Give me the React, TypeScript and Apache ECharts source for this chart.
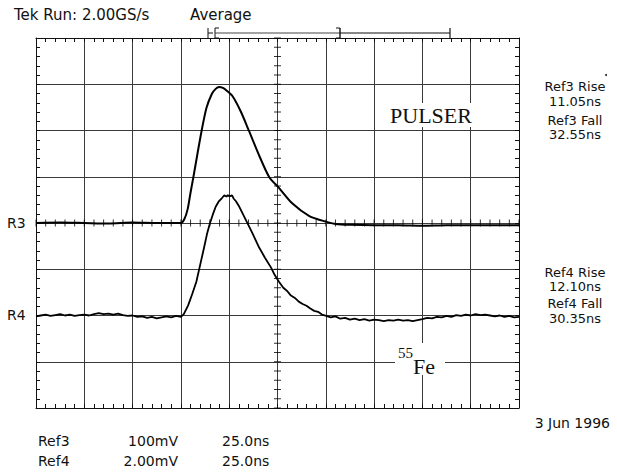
import React, { useEffect, useRef } from "react";
import * as echarts from "echarts";

// ---- axis setup (time in ns, vertical in screen divisions) ----
const timeMinNs = 0;
const timeMaxNs = 250;
const nsPerDiv = 25;
const divMin = -4;
const divMax = 4;
const minorPerDiv = 5;
const centerTimeNs = 125;

// ---- Ref3 trace (PULSER), [time ns, divisions] ----
const ref3Trace: [number, number][] = [
  [0, 0], [12.5, 0.01], [25, 0], [37.5, -0.01], [50, 0.01], [62.5, 0], [75, 0],
  [76.75, 0.08], [78.5, 0.3], [80, 0.66], [81.5, 1.0], [83.75, 1.54], [85.75, 2.0],
  [88.25, 2.49], [91, 2.79], [93, 2.9], [94.75, 2.94], [96.75, 2.92], [98.75, 2.86],
  [101.75, 2.74], [106, 2.41], [110.25, 1.99], [115.5, 1.46], [120.75, 0.99],
  [125.75, 0.76], [132.75, 0.42], [141.5, 0.15], [150, 0.03], [155, -0.02],
  [162.5, -0.04], [175, -0.05], [187.5, -0.05], [200, -0.06], [212.5, -0.05],
  [225, -0.05], [237.5, -0.05], [250, -0.05],
];

// ---- Ref4 trace (55Fe), [time ns, divisions] ----
const ref4Trace: [number, number][] = [
  [0, -2.02], [2.5, -2.0], [5, -1.98], [7.5, -2.01], [10, -1.99], [12.5, -1.97],
  [15, -2.0], [17.5, -1.98], [20, -2.01], [22.5, -1.99], [25, -1.98], [27.5, -2.0],
  [30, -1.97], [32.5, -1.95], [35, -1.97], [37.5, -1.96], [40, -1.98], [42.5, -1.96],
  [45, -1.99], [47.5, -2.01], [50, -2.0], [52.5, -2.03], [55, -2.02], [57.5, -2.05],
  [60, -2.03], [62.5, -2.06], [65, -2.04], [67.5, -2.02], [70, -2.04], [72.5, -2.01],
  [75, -2.03], [76.5, -1.97], [78.75, -1.78], [81, -1.52], [83, -1.27], [85, -0.9],
  [87, -0.53], [88.5, -0.24], [90, -0.01], [91.5, 0.18], [93, 0.35], [94.5, 0.46],
  [96.25, 0.54], [97.5, 0.6], [98.5, 0.57], [99.25, 0.6], [100.5, 0.58], [101.5, 0.6],
  [102.25, 0.53], [103.5, 0.47], [105.25, 0.35], [107.5, 0.16], [109.5, -0.01],
  [112, -0.22], [115.5, -0.53], [118.5, -0.75], [121.75, -0.97], [123.5, -1.12],
  [125.75, -1.27], [128, -1.4], [130, -1.47], [131.75, -1.56], [134, -1.62],
  [136, -1.7], [138, -1.75], [140, -1.79], [142, -1.85], [144, -1.9], [146, -1.92],
  [148, -1.98], [150.25, -2.01], [152.5, -2.04], [155, -2.02], [157.5, -2.07],
  [160, -2.05], [162.5, -2.09], [165, -2.07], [167.5, -2.1], [170, -2.08],
  [172.5, -2.11], [175, -2.09], [177.5, -2.1], [180, -2.12], [182.5, -2.1],
  [185, -2.11], [187.5, -2.09], [190, -2.11], [192.5, -2.1], [195, -2.12],
  [197.5, -2.1], [200, -2.08], [202.5, -2.05], [205, -2.06], [207.5, -2.03],
  [210, -2.04], [212.5, -2.01], [215, -2.03], [217.5, -1.99], [220, -2.01],
  [222.5, -1.98], [225, -2.0], [227.5, -1.97], [230, -1.99], [232.5, -1.98],
  [235, -2.0], [237.5, -2.02], [240, -2.0], [242.5, -2.03], [245, -2.01],
  [247.5, -2.04], [250, -2.03],
];

// ---- texts ----
const headerRun = "Tek Run: 2.00GS/s";
const headerMode = "Average";
const ref3Readout = ["Ref3 Rise", "11.05ns", "Ref3 Fall", "32.55ns"];
const ref4Readout = ["Ref4 Rise", "12.10ns", "Ref4 Fall", "30.35ns"];
const channelRows = [
  ["Ref3", "100mV", "25.0ns"],
  ["Ref4", "2.00mV", "25.0ns"],
];
const dateLabel = "3 Jun 1996";
const pulserLabel = "PULSER";
const feMass = "55";
const feSymbol = "Fe";
const markerR3 = "R3";
const markerR4 = "R4";

const SANS = "DejaVu Sans";
const SERIF = "Liberation Serif";

export default function App() {
  const ref = useRef<HTMLDivElement>(null);

  useEffect(() => {
    if (!ref.current) return;
    const chart = echarts.init(ref.current, null, { renderer: "svg" });

    const minorNs = nsPerDiv / minorPerDiv;
    const hTicks: [number, number][] = [];
    for (let t = timeMinNs; t <= timeMaxNs + 1e-6; t += minorNs) hTicks.push([t, 0]);
    const vTicks: [number, number][] = [];
    for (let i = divMin * minorPerDiv; i <= divMax * minorPerDiv; i++)
      vTicks.push([centerTimeNs, i / minorPerDiv]);

    const gridColor = "#3a3a3a";

    const xBase = (pos: "bottom" | "top", split: boolean) => ({
      type: "value",
      position: pos,
      min: timeMinNs,
      max: timeMaxNs,
      interval: nsPerDiv,
      axisLine: { show: true, onZero: false, lineStyle: { color: "#111", width: 1 } },
      axisTick: { show: true, inside: true, length: 4, lineStyle: { color: "#111" } },
      minorTick: { show: true, splitNumber: minorPerDiv, length: 4, lineStyle: { color: "#111" } },
      axisLabel: { show: false },
      splitLine: { show: split, lineStyle: { color: gridColor, width: 1 } },
    });
    const yBase = (pos: "left" | "right", split: boolean) => ({
      type: "value",
      position: pos,
      min: divMin,
      max: divMax,
      interval: 1,
      axisLine: { show: true, onZero: false, lineStyle: { color: "#111", width: 1 } },
      axisTick: { show: true, inside: true, length: 4, lineStyle: { color: "#111" } },
      minorTick: { show: true, splitNumber: minorPerDiv, length: 4, lineStyle: { color: "#111" } },
      axisLabel: { show: false },
      splitLine: { show: split, lineStyle: { color: gridColor, width: 1 } },
    });

    const txt = (
      text: string,
      x: number,
      y: number,
      size: number,
      align: "left" | "center" | "right" = "left",
      family = SANS
    ) => ({
      type: "text",
      x,
      y,
      z: 100,
      style: {
        text,
        fill: "#111",
        font: `${size}px "${family}"`,
        textAlign: align,
        textVerticalAlign: "middle",
        verticalAlign: "middle",
      },
    });
    const seg = (x1: number, y1: number, x2: number, y2: number, w = 1, c = "#111") => ({
      type: "line",
      z: 100,
      shape: { x1, y1, x2, y2 },
      style: { stroke: c, lineWidth: w },
    });

    const graphic: any[] = [
      txt(headerRun, 14, 15, 15),
      txt(headerMode, 190, 15, 15),
      // trigger bracket
      seg(208, 28, 208, 38),
      seg(208, 33, 213, 33),
      seg(215, 28, 215, 38),
      seg(215, 28, 219, 28),
      seg(215, 38, 219, 38),
      seg(215, 33, 340, 33, 1, "#444"),
      seg(340, 28, 340, 38, 1.4),
      seg(336, 28, 340, 28),
      seg(336, 38, 340, 38),
      seg(340, 33, 450, 33, 1.2),
      seg(450, 28, 450, 38, 1.2),
      { type: "circle", z: 100, shape: { cx: 606, cy: 75, r: 1 }, style: { fill: "#222" } },
      txt(markerR3, 7, 223, 14),
      txt(markerR4, 7, 315, 14),
      txt(ref3Readout[0], 575, 86.5, 13, "center"),
      txt(ref3Readout[1], 575, 101, 13, "center"),
      txt(ref3Readout[2], 575, 120, 13, "center"),
      txt(ref3Readout[3], 575, 134.5, 13, "center"),
      txt(ref4Readout[0], 575, 272, 13, "center"),
      txt(ref4Readout[1], 575, 286.5, 13, "center"),
      txt(ref4Readout[2], 575, 303, 13, "center"),
      txt(ref4Readout[3], 575, 318, 13, "center"),
      // white patches behind annotations
      { type: "rect", z: 90, shape: { x: 382, y: 103, width: 98, height: 24 }, style: { fill: "#fff" } },
      { type: "rect", z: 90, shape: { x: 395, y: 343, width: 50, height: 32 }, style: { fill: "#fff" } },
      txt(pulserLabel, 431, 115, 22, "center", SERIF),
      txt(feMass, 398, 353, 15, "left", SERIF),
      txt(feSymbol, 413, 366, 22, "left", SERIF),
      txt(dateLabel, 610, 423, 14, "right"),
      txt(channelRows[0][0], 38, 441, 14),
      txt(channelRows[0][1], 178, 441, 14, "right"),
      txt(channelRows[0][2], 222, 441, 14),
      txt(channelRows[1][0], 38, 461, 14),
      txt(channelRows[1][1], 178, 461, 14, "right"),
      txt(channelRows[1][2], 222, 461, 14),
    ];

    chart.setOption({
      animation: false,
      backgroundColor: "#fff",
      grid: { left: 36, top: 38, width: 483, height: 370, containLabel: false },
      xAxis: [xBase("bottom", true), xBase("top", false)],
      yAxis: [yBase("left", true), yBase("right", false)],
      series: [
        {
          type: "scatter",
          data: hTicks,
          symbol: "rect",
          symbolSize: [1, 7],
          itemStyle: { color: "#000" },
          silent: true,
          z: 1,
        },
        {
          type: "scatter",
          data: vTicks,
          symbol: "rect",
          symbolSize: [7, 1],
          itemStyle: { color: "#000" },
          silent: true,
          z: 1,
        },
        {
          type: "line",
          name: "Ref3",
          data: ref3Trace,
          showSymbol: false,
          smooth: 0.25,
          lineStyle: { color: "#000", width: 2 },
          silent: true,
          z: 5,
        },
        {
          type: "line",
          name: "Ref4",
          data: ref4Trace,
          showSymbol: false,
          smooth: false,
          lineStyle: { color: "#000", width: 1.8 },
          silent: true,
          z: 5,
        },
      ],
      graphic,
    });

    return () => chart.dispose();
  }, []);

  return (
    <div
      ref={ref}
      style={{ position: "fixed", left: 0, top: 0, width: 617, height: 474, background: "#fff" }}
    />
  );
}
